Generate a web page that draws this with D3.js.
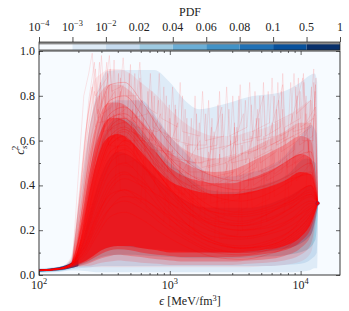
<!DOCTYPE html>
<html>
<head>
<meta charset="utf-8">
<script src="https://cdn.jsdelivr.net/npm/d3@7"></script>
<style>
  body { margin: 0; background: #fff; }
  text { font-family: "Liberation Serif", "DejaVu Serif", serif; fill: #222; }
</style>
</head>
<body>
<div id="chart"></div>
<script>
// colorbar
var pdfLabels = [["10", "−4"], ["10", "−3"], ["10", "−2"], ["0.02"], ["0.04"], ["0.06"], ["0.08"], ["0.1"], ["0.5"], ["1"]];
var pdfColors = ["#f7fbff", "#deebf7", "#c6dbef", "#9ecae1", "#6baed6", "#4292c6", "#2171b5", "#08519c", "#08306b"];

// axes
var xMajor = [100, 1000, 10000];
var xMajorLabels = [["10", "2"], ["10", "3"], ["10", "4"]];
var xMinor = [200, 300, 400, 500, 600, 700, 800, 900, 2000, 3000, 4000, 5000, 6000, 7000, 8000, 9000];
var yMajor = [0, 0.2, 0.4, 0.6, 0.8, 1.0];
var yMinor = [0.1, 0.3, 0.5, 0.7, 0.9];

// PDF regions (blue): e, lower, upper
var pdf2E  = [100, 150, 175, 200, 250, 300, 330, 440, 760, 1000, 1300, 1680, 2500, 4000, 7200, 10000, 11600, 12800, 13400, 13600];
var pdf2Hi = [0.03, 0.04, 0.07, 0.3, 0.7, 0.87, 0.91, 0.915, 0.915, 0.86, 0.78, 0.74, 0.76, 0.795, 0.817, 0.86, 0.89, 0.9, 0.86, 0.33];
var pdf2Lo = [0.01, 0.015, 0.02, 0.02, 0.015, 0.012, 0.012, 0.012, 0.012, 0.012, 0.012, 0.012, 0.012, 0.012, 0.012, 0.015, 0.02, 0.03, 0.03, 0.31];

var pdf3E  = [100, 150, 175, 200, 250, 300, 400, 600, 800, 1000, 1300, 1700, 2200, 3000, 4000, 5500, 7500, 10000, 12000, 13300, 13600];
var pdf3Hi = [0.028, 0.038, 0.06, 0.15, 0.5, 0.7, 0.78, 0.78, 0.7, 0.62, 0.55, 0.48, 0.44, 0.44, 0.455, 0.48, 0.53, 0.62, 0.67, 0.63, 0.33];
var pdf3Lo = [0.012, 0.018, 0.025, 0.03, 0.035, 0.04, 0.04, 0.04, 0.04, 0.04, 0.04, 0.04, 0.04, 0.04, 0.04, 0.04, 0.045, 0.05, 0.07, 0.1, 0.31];

var pdf4E  = [100, 150, 175, 200, 250, 300, 400, 500, 700, 1000, 1500, 2000, 3000, 5000, 8000, 11000, 13000, 13600];
var pdf4Hi = [0.026, 0.036, 0.055, 0.12, 0.4, 0.6, 0.7, 0.69, 0.6, 0.5, 0.42, 0.38, 0.37, 0.4, 0.45, 0.52, 0.5, 0.33];
var pdf4Lo = [0.014, 0.02, 0.03, 0.04, 0.06, 0.08, 0.09, 0.09, 0.085, 0.08, 0.075, 0.075, 0.075, 0.08, 0.09, 0.11, 0.16, 0.31];

var pdf5E  = [100, 150, 175, 200, 250, 300, 400, 600, 1000, 2000, 4000, 8000, 12000, 13600];
var pdf5Hi = [0.025, 0.034, 0.05, 0.09, 0.3, 0.45, 0.55, 0.5, 0.38, 0.3, 0.3, 0.35, 0.4, 0.33];
var pdf5Lo = [0.015, 0.022, 0.033, 0.045, 0.08, 0.11, 0.13, 0.12, 0.11, 0.1, 0.1, 0.12, 0.18, 0.31];

var tubeE  = [100, 130, 160, 180, 200];
var tubeHi = [0.025, 0.031, 0.043, 0.056, 0.07];
var tubeLo = [0.016, 0.02, 0.026, 0.032, 0.04];

// red ensemble envelopes, from sparse to dense
var redE = [100, 150, 175, 200, 230, 260, 300, 350, 400, 500, 600, 800, 1000, 1300, 1700, 2200, 3000, 4000, 5500, 7500, 10000, 12000, 13500];
var red1Hi = [0.025, 0.04, 0.08, 0.35, 0.68, 0.86, 0.9, 0.92, 0.92, 0.9, 0.86, 0.8, 0.74, 0.68, 0.64, 0.62, 0.62, 0.64, 0.66, 0.7, 0.75, 0.78, 0.33];
var red1Lo = [0.016, 0.022, 0.03, 0.035, 0.035, 0.035, 0.035, 0.035, 0.035, 0.035, 0.035, 0.035, 0.035, 0.035, 0.035, 0.035, 0.035, 0.035, 0.04, 0.045, 0.06, 0.1, 0.31];
var red2Hi = [0.025, 0.038, 0.065, 0.27, 0.56, 0.74, 0.82, 0.85, 0.85, 0.82, 0.77, 0.69, 0.62, 0.56, 0.53, 0.52, 0.53, 0.56, 0.6, 0.64, 0.68, 0.68, 0.33];
var red2Lo = [0.016, 0.023, 0.031, 0.037, 0.04, 0.045, 0.055, 0.06, 0.065, 0.06, 0.055, 0.05, 0.045, 0.045, 0.045, 0.045, 0.045, 0.05, 0.055, 0.065, 0.09, 0.14, 0.31];
var red3Hi = [0.025, 0.036, 0.055, 0.2, 0.45, 0.62, 0.73, 0.77, 0.77, 0.74, 0.69, 0.61, 0.55, 0.5, 0.47, 0.46, 0.47, 0.5, 0.54, 0.58, 0.62, 0.6, 0.33];
var red3Lo = [0.017, 0.024, 0.032, 0.04, 0.048, 0.06, 0.075, 0.085, 0.09, 0.085, 0.08, 0.07, 0.065, 0.06, 0.06, 0.06, 0.06, 0.065, 0.07, 0.085, 0.12, 0.18, 0.31];
var red4Hi = [0.024, 0.034, 0.05, 0.16, 0.38, 0.54, 0.65, 0.7, 0.7, 0.67, 0.62, 0.54, 0.48, 0.44, 0.42, 0.41, 0.41, 0.43, 0.46, 0.5, 0.54, 0.52, 0.33];
var red4Lo = [0.018, 0.025, 0.034, 0.045, 0.058, 0.075, 0.095, 0.11, 0.115, 0.11, 0.1, 0.09, 0.085, 0.08, 0.08, 0.08, 0.08, 0.085, 0.095, 0.11, 0.15, 0.21, 0.315];
var red5Hi = [0.024, 0.032, 0.045, 0.12, 0.3, 0.45, 0.57, 0.62, 0.63, 0.6, 0.55, 0.47, 0.42, 0.39, 0.37, 0.36, 0.36, 0.37, 0.39, 0.42, 0.46, 0.45, 0.325];
var red5Lo = [0.018, 0.026, 0.036, 0.05, 0.065, 0.085, 0.11, 0.125, 0.13, 0.13, 0.12, 0.11, 0.1, 0.1, 0.1, 0.1, 0.1, 0.105, 0.115, 0.13, 0.17, 0.23, 0.315];

// individual smooth curves
var curveE = [100, 150, 180, 220, 280, 350, 450, 600, 900, 1400, 2200, 3500, 5500, 8500, 12000, 13500];
var smoothCurves = [
  [0.02, 0.03, 0.05, 0.15, 0.35, 0.5, 0.6, 0.55, 0.42, 0.3, 0.22, 0.2, 0.22, 0.28, 0.33, 0.32],
  [0.02, 0.03, 0.05, 0.2, 0.45, 0.6, 0.65, 0.58, 0.45, 0.33, 0.25, 0.22, 0.24, 0.3, 0.36, 0.32],
  [0.02, 0.03, 0.05, 0.12, 0.28, 0.4, 0.45, 0.42, 0.32, 0.22, 0.15, 0.13, 0.15, 0.2, 0.28, 0.32],
  [0.02, 0.03, 0.06, 0.25, 0.55, 0.7, 0.72, 0.65, 0.5, 0.38, 0.3, 0.28, 0.3, 0.35, 0.4, 0.32],
  [0.02, 0.03, 0.05, 0.1, 0.22, 0.3, 0.33, 0.3, 0.22, 0.15, 0.1, 0.09, 0.11, 0.16, 0.25, 0.32],
  [0.02, 0.03, 0.05, 0.18, 0.42, 0.58, 0.62, 0.52, 0.35, 0.22, 0.15, 0.12, 0.14, 0.2, 0.3, 0.32],
  [0.02, 0.03, 0.055, 0.3, 0.62, 0.78, 0.8, 0.72, 0.55, 0.42, 0.35, 0.33, 0.36, 0.42, 0.46, 0.32],
  [0.02, 0.03, 0.05, 0.14, 0.33, 0.46, 0.5, 0.44, 0.3, 0.2, 0.14, 0.12, 0.13, 0.18, 0.27, 0.32],
  [0.02, 0.03, 0.05, 0.08, 0.18, 0.26, 0.28, 0.25, 0.18, 0.12, 0.08, 0.07, 0.09, 0.14, 0.24, 0.32],
  [0.02, 0.03, 0.05, 0.22, 0.5, 0.65, 0.68, 0.6, 0.48, 0.4, 0.36, 0.36, 0.39, 0.43, 0.45, 0.32],
  [0.02, 0.03, 0.05, 0.16, 0.38, 0.52, 0.56, 0.5, 0.38, 0.28, 0.23, 0.22, 0.25, 0.3, 0.35, 0.32],
  [0.02, 0.03, 0.05, 0.11, 0.26, 0.38, 0.43, 0.4, 0.34, 0.27, 0.22, 0.2, 0.21, 0.25, 0.3, 0.32],
  [0.02, 0.03, 0.06, 0.28, 0.58, 0.72, 0.75, 0.68, 0.55, 0.45, 0.4, 0.38, 0.4, 0.45, 0.5, 0.32],
  [0.02, 0.03, 0.05, 0.13, 0.3, 0.42, 0.46, 0.4, 0.28, 0.18, 0.12, 0.1, 0.11, 0.15, 0.24, 0.32],
  [0.02, 0.03, 0.05, 0.19, 0.44, 0.6, 0.64, 0.56, 0.42, 0.3, 0.24, 0.23, 0.27, 0.34, 0.4, 0.32],
  [0.02, 0.03, 0.05, 0.09, 0.2, 0.3, 0.35, 0.34, 0.28, 0.22, 0.17, 0.16, 0.18, 0.22, 0.29, 0.32],
  [0.02, 0.03, 0.05, 0.24, 0.52, 0.66, 0.7, 0.63, 0.5, 0.36, 0.27, 0.24, 0.27, 0.33, 0.38, 0.32],
  [0.02, 0.03, 0.05, 0.17, 0.4, 0.55, 0.58, 0.5, 0.36, 0.25, 0.19, 0.17, 0.19, 0.25, 0.32, 0.32],
  [0.02, 0.03, 0.05, 0.12, 0.27, 0.36, 0.38, 0.33, 0.24, 0.16, 0.11, 0.1, 0.12, 0.17, 0.26, 0.32],
  [0.02, 0.03, 0.06, 0.33, 0.68, 0.85, 0.86, 0.78, 0.62, 0.5, 0.44, 0.42, 0.45, 0.52, 0.55, 0.32],
  [0.02, 0.03, 0.05, 0.15, 0.36, 0.5, 0.54, 0.49, 0.4, 0.32, 0.28, 0.27, 0.29, 0.33, 0.37, 0.32],
  [0.02, 0.03, 0.05, 0.2, 0.47, 0.62, 0.66, 0.6, 0.46, 0.34, 0.28, 0.26, 0.28, 0.32, 0.36, 0.32],
  [0.02, 0.03, 0.05, 0.1, 0.24, 0.34, 0.38, 0.35, 0.27, 0.19, 0.14, 0.12, 0.13, 0.18, 0.27, 0.32],
  [0.02, 0.03, 0.05, 0.26, 0.56, 0.7, 0.7, 0.6, 0.42, 0.28, 0.2, 0.17, 0.19, 0.24, 0.31, 0.32]
];

// faint spiky curves, [e, cs2] pairs
var spikyCurves = [
  [[100,.02],[150,.03],[180,.05],[215,.3],[250,.62],[290,.8],[305,.58],[335,.9],[350,.64],[440,.85],[455,.6],[615,.78],[640,.55],[850,.72],[870,.48],[1150,.68],[1190,.44],[1700,.6],[1760,.4],[2500,.75],[2600,.44],[3650,.72],[3800,.5],[5200,.8],[5400,.56],[7300,.85],[7600,.58],[10400,.88],[10800,.62],[12800,.72],[13500,.32]],
  [[100,.02],[150,.03],[180,.05],[205,.35],[235,.7],[270,.92],[285,.7],[300,.98],[320,.75],[380,.82],[400,.6],[420,.88],[450,.66],[520,.7],[540,.9],[560,.62],[700,.6],[730,.82],[760,.55],[950,.5],[990,.76],[1030,.48],[1400,.45],[1460,.7],[1520,.44],[2000,.42],[2080,.66],[2160,.4],[3000,.45],[3120,.68],[3240,.44],[4500,.5],[4700,.74],[4900,.5],[6500,.55],[6800,.78],[7100,.55],[9500,.6],[9900,.82],[10300,.6],[12500,.6],[13000,.85],[13500,.32]],
  [[100,.02],[150,.03],[180,.05],[220,.25],[260,.5],[300,.62],[320,.8],[340,.58],[420,.62],[440,.76],[460,.5],[600,.52],[630,.7],[660,.45],[900,.42],[940,.62],[980,.38],[1300,.36],[1360,.58],[1420,.34],[1900,.34],[1980,.55],[2060,.32],[2800,.34],[2920,.6],[3050,.35],[4000,.4],[4180,.62],[4360,.4],[5800,.45],[6050,.68],[6300,.45],[8200,.5],[8550,.72],[8900,.5],[11500,.55],[12000,.78],[12500,.55],[13500,.32]],
  [[100,.02],[150,.03],[180,.05],[210,.4],[240,.78],[265,.95],[280,.72],[330,.85],[350,.92],[370,.7],[480,.75],[500,.94],[520,.7],[680,.72],[710,.9],[740,.66],[1000,.62],[1050,.84],[1100,.6],[1500,.58],[1560,.8],[1620,.56],[2300,.58],[2400,.82],[2500,.56],[3300,.6],[3450,.85],[3600,.6],[5000,.62],[5200,.86],[5400,.62],[7000,.66],[7300,.9],[7600,.66],[10000,.7],[10500,.9],[11000,.68],[13000,.75],[13500,.32]],
  [[100,.02],[150,.03],[180,.05],[230,.2],[290,.42],[350,.55],[370,.72],[390,.5],[520,.48],[545,.66],[570,.42],[760,.38],[800,.58],[840,.35],[1150,.3],[1200,.5],[1250,.28],[1700,.26],[1780,.46],[1860,.25],[2600,.26],[2720,.5],[2840,.27],[3900,.3],[4080,.52],[4260,.3],[5800,.34],[6050,.56],[6300,.35],[8500,.4],[8900,.62],[9300,.42],[12000,.5],[12600,.7],[13500,.32]],
  [[100,.02],[150,.03],[180,.05],[200,.3],[225,.62],[255,.84],[270,.66],[310,.8],[330,.95],[345,.7],[400,.72],[560,.68],[590,.88],[620,.6],[780,.58],[820,.78],[860,.55],[1250,.52],[1310,.74],[1370,.5],[1800,.5],[1880,.72],[1960,.48],[2700,.5],[2830,.74],[2960,.5],[4000,.52],[4200,.76],[4400,.52],[6000,.56],[6280,.8],[6560,.58],[8800,.62],[9200,.84],[9600,.62],[12000,.66],[12600,.86],[13500,.32]],
  [[100,.02],[150,.03],[180,.05],[215,.35],[245,.66],[275,.78],[290,.95],[305,.72],[360,.75],[375,.96],[390,.7],[470,.68],[490,.9],[510,.64],[580,.62],[600,.86],[620,.6],[900,.55],[940,.8],[980,.52],[1300,.5],[1350,.7],[1400,.46],[2000,.46],[2100,.7],[2200,.44],[3100,.46],[3250,.66],[3400,.44],[4600,.48],[4800,.7],[5000,.46],[7000,.5],[7300,.74],[7600,.5],[10500,.56],[11000,.8],[11500,.56],[13500,.32]],
  [[100,.02],[150,.03],[180,.05],[240,.15],[300,.3],[380,.4],[400,.58],[420,.38],[600,.32],[630,.52],[660,.3],[900,.24],[950,.44],[1000,.22],[1400,.18],[1470,.4],[1540,.18],[2200,.16],[2300,.38],[2400,.16],[3300,.18],[3450,.42],[3600,.2],[5000,.22],[5250,.46],[5500,.24],[7500,.28],[7850,.52],[8200,.3],[11000,.38],[11500,.6],[12000,.4],[13500,.32]],
  [[100,.02],[150,.03],[180,.05],[210,.28],[250,.58],[280,.7],[295,.86],[310,.64],[400,.66],[420,.82],[440,.6],[650,.6],[680,.82],[710,.56],[1050,.55],[1100,.76],[1150,.52],[1600,.5],[1680,.68],[1760,.48],[2400,.5],[2520,.72],[2640,.5],[3600,.54],[3780,.78],[3960,.54],[5400,.58],[5650,.82],[5900,.58],[8000,.62],[8400,.86],[8800,.64],[11500,.66],[12100,.84],[13500,.32]],
  [[100,.02],[150,.03],[180,.05],[200,.45],[220,.8],[240,.9],[255,.99],[270,.8],[330,.88],[345,.98],[360,.82],[420,.84],[440,.97],[460,.8],[560,.8],[590,.95],[620,.76],[800,.72],[830,.9],[860,.7],[1150,.66],[1200,.86],[1250,.64],[1700,.62],[1780,.82],[1860,.6],[2600,.62],[2720,.84],[2840,.62],[3900,.66],[4080,.86],[4260,.64],[5800,.68],[6050,.88],[6300,.68],[8500,.72],[8900,.9],[9300,.72],[12000,.78],[12600,.92],[13500,.32]],
  [[100,.02],[150,.03],[180,.05],[225,.3],[280,.55],[320,.68],[345,.85],[360,.62],[500,.58],[520,.74],[540,.52],[700,.45],[730,.64],[760,.42],[1000,.36],[1050,.56],[1100,.34],[1500,.3],[1570,.52],[1640,.3],[2300,.3],[2400,.54],[2500,.32],[3400,.34],[3560,.58],[3720,.36],[5000,.4],[5240,.62],[5480,.42],[7200,.46],[7550,.66],[7900,.48],[10500,.52],[11000,.72],[11500,.54],[13500,.32]],
  [[100,.02],[150,.03],[180,.05],[205,.32],[235,.64],[265,.82],[285,.68],[400,.7],[560,.66],[800,.64],[870,.66],[900,.84],[930,.62],[1200,.6],[1250,.8],[1300,.58],[1900,.58],[1980,.78],[2060,.56],[2900,.58],[3030,.8],[3160,.58],[4300,.6],[4480,.82],[4660,.6],[6400,.62],[6700,.86],[7000,.62],[9200,.66],[9600,.88],[10000,.66],[12600,.7],[13100,.88],[13500,.32]],
  [[100,.02],[150,.03],[180,.05],[212,.33],[248,.6],[282,.74],[318,.66],[395,.72],[405,.9],[415,.66],[740,.6],[760,.8],[780,.58],[1080,.54],[1110,.74],[1140,.52],[1550,.5],[1600,.72],[1650,.5],[2250,.52],[2330,.76],[2410,.52],[3250,.54],[3370,.8],[3490,.54],[4700,.56],[4880,.8],[5060,.56],[6900,.6],[7150,.82],[7400,.6],[10200,.64],[10600,.86],[11000,.64],[13500,.32]],
  [[100,.02],[150,.03],[180,.05],[228,.28],[272,.52],[312,.6],[326,.82],[340,.58],[530,.56],[550,.78],[570,.54],[960,.46],[1000,.7],[1040,.44],[1350,.4],[1400,.62],[1450,.4],[2100,.4],[2180,.64],[2260,.4],[3000,.42],[3120,.66],[3240,.42],[4400,.46],[4580,.7],[4760,.46],[6300,.5],[6560,.74],[6820,.5],[9000,.56],[9400,.8],[9800,.58],[12400,.62],[12900,.82],[13500,.32]]
];

var endPoint = [13500, 0.32];

(function() {
var W = 349, H = 311;
var margin = { top: 51, right: 9, bottom: 36, left: 39 };
var fs = 12;
var x = d3.scaleLog().domain([100, 20000]).range([margin.left, W - margin.right]);
var y = d3.scaleLinear().domain([0, 1]).range([H - margin.bottom, margin.top]);

var svg = d3.select("#chart").append("svg").attr("width", W).attr("height", H);

svg.append("defs").append("clipPath").attr("id", "clip")
  .append("rect").attr("x", margin.left).attr("y", margin.top)
  .attr("width", W - margin.left - margin.right).attr("height", H - margin.top - margin.bottom);

var plot = svg.append("g").attr("clip-path", "url(#clip)");
plot.append("rect").attr("x", margin.left).attr("y", margin.top)
  .attr("width", W - margin.left - margin.right).attr("height", H - margin.top - margin.bottom)
  .attr("fill", pdfColors[0]);

function band(es, lo, hi) {
  var rows = es.map(function(e, i) { return { e: e, lo: lo[i], hi: hi[i] }; });
  return d3.area().curve(d3.curveMonotoneX)
    .x(function(d) { return x(d.e); })
    .y0(function(d) { return y(d.lo); })
    .y1(function(d) { return y(d.hi); })(rows);
}

plot.append("path").attr("d", band(pdf2E, pdf2Lo, pdf2Hi)).attr("fill", pdfColors[1]);
plot.append("path").attr("d", band(pdf3E, pdf3Lo, pdf3Hi)).attr("fill", pdfColors[2]);
plot.append("path").attr("d", band(pdf4E, pdf4Lo, pdf4Hi)).attr("fill", pdfColors[3]);
plot.append("path").attr("d", band(pdf5E, pdf5Lo, pdf5Hi)).attr("fill", pdfColors[4]);
plot.append("path").attr("d", band(tubeE, tubeLo, tubeHi)).attr("fill", pdfColors[7]);

var redBands = [[red1Lo, red1Hi, 0.07], [red2Lo, red2Hi, 0.14], [red3Lo, red3Hi, 0.25],
                [red4Lo, red4Hi, 0.38], [red5Lo, red5Hi, 0.6]];
redBands.forEach(function(b) {
  plot.append("path").attr("d", band(redE, b[0], b[1])).attr("fill", "red").attr("opacity", b[2]);
});

var smoothLine = d3.line().curve(d3.curveMonotoneX)
  .x(function(d) { return x(d[0]); }).y(function(d) { return y(d[1]); });
var spikyLine = d3.line().curve(d3.curveLinear)
  .x(function(d) { return x(d[0]); }).y(function(d) { return y(d[1]); });

smoothCurves.forEach(function(c) {
  plot.append("path").attr("d", smoothLine(c.map(function(v, i) { return [curveE[i], v]; })))
    .attr("fill", "none").attr("stroke", "red").attr("stroke-width", 0.7).attr("opacity", 0.3);
});
spikyCurves.forEach(function(c) {
  plot.append("path").attr("d", spikyLine(c))
    .attr("fill", "none").attr("stroke", "red").attr("stroke-width", 0.6).attr("opacity", 0.17);
});

plot.append("circle").attr("cx", x(endPoint[0])).attr("cy", y(endPoint[1])).attr("r", 1.8)
  .attr("fill", "red").attr("stroke", "#5a2a6a").attr("stroke-width", 0.5);

// ticks, inward on all four sides
function tickAxis(axis, transform) {
  var g = svg.append("g").attr("transform", transform).call(axis);
  g.select(".domain").remove();
  g.selectAll("line").attr("stroke", "#222").attr("stroke-width", 0.7);
  g.selectAll("text").remove();
}
var bottom = "translate(0," + (H - margin.bottom) + ")";
var top = "translate(0," + margin.top + ")";
var left = "translate(" + margin.left + ",0)";
var right = "translate(" + (W - margin.right) + ",0)";
tickAxis(d3.axisBottom(x).tickValues(xMajor).tickSize(-4), bottom);
tickAxis(d3.axisBottom(x).tickValues(xMinor).tickSize(-2), bottom);
tickAxis(d3.axisTop(x).tickValues(xMajor).tickSize(-4), top);
tickAxis(d3.axisTop(x).tickValues(xMinor).tickSize(-2), top);
tickAxis(d3.axisLeft(y).tickValues(yMajor).tickSize(-4), left);
tickAxis(d3.axisLeft(y).tickValues(yMinor).tickSize(-2), left);
tickAxis(d3.axisRight(y).tickValues(yMajor).tickSize(-4), right);
tickAxis(d3.axisRight(y).tickValues(yMinor).tickSize(-2), right);

svg.append("rect").attr("x", margin.left).attr("y", margin.top)
  .attr("width", W - margin.left - margin.right).attr("height", H - margin.top - margin.bottom)
  .attr("fill", "none").attr("stroke", "#222").attr("stroke-width", 0.9);

function powLabel(sel, parts, size) {
  sel.append("tspan").text(parts[0]);
  if (parts.length > 1) {
    sel.append("tspan").attr("font-size", size * 0.7).attr("dy", -size * 0.38).text(parts[1]);
  }
}

xMajor.forEach(function(v, i) {
  var t = svg.append("text").attr("x", x(v)).attr("y", 289).attr("text-anchor", "middle")
    .attr("font-size", fs);
  powLabel(t, xMajorLabels[i], fs);
});
yMajor.forEach(function(v) {
  svg.append("text").attr("x", 35).attr("y", y(v) + 4).attr("text-anchor", "end")
    .attr("font-size", fs).text(v.toFixed(1));
});

var xl = svg.append("text").attr("x", 190).attr("y", 305).attr("text-anchor", "middle").attr("font-size", fs);
xl.append("tspan").attr("font-style", "italic").text("ϵ");
xl.append("tspan").text(" [MeV/fm");
xl.append("tspan").attr("font-size", fs * 0.7).attr("dy", -4).text("3");
xl.append("tspan").attr("dy", 4).text("]");

var yl = svg.append("text").attr("transform", "translate(24,150) rotate(-90)")
  .attr("text-anchor", "middle").attr("font-size", 13);
yl.append("tspan").attr("font-style", "italic").text("c");
yl.append("tspan").attr("font-style", "italic").attr("font-size", 9).attr("dy", 3).text("s");
yl.append("tspan").attr("font-size", 9).attr("dx", -4.8).attr("dy", -9).text("2");

// colorbar
var cb = d3.scalePoint().domain(d3.range(pdfLabels.length)).range([margin.left, W - margin.right]);
var cbTop = 42, cbBot = 50;
pdfColors.forEach(function(c, i) {
  svg.append("rect").attr("x", cb(i)).attr("y", cbTop).attr("width", cb(i + 1) - cb(i))
    .attr("height", cbBot - cbTop).attr("fill", c);
});
svg.append("rect").attr("x", margin.left).attr("y", cbTop).attr("width", W - margin.left - margin.right)
  .attr("height", 2.4).attr("fill", "#8a8a8a");
svg.append("rect").attr("x", margin.left).attr("y", cbTop).attr("width", W - margin.left - margin.right)
  .attr("height", cbBot - cbTop).attr("fill", "none").attr("stroke", "#222").attr("stroke-width", 0.7);
var cbAxis = svg.append("g").attr("transform", "translate(0," + cbTop + ")")
  .call(d3.axisTop(cb).tickSize(5).tickFormat(""));
cbAxis.select(".domain").remove();
cbAxis.selectAll("line").attr("stroke", "#222").attr("stroke-width", 0.8);
pdfLabels.forEach(function(p, i) {
  var t = svg.append("text").attr("x", cb(i)).attr("y", 31).attr("text-anchor", "middle").attr("font-size", fs);
  powLabel(t, p, fs);
});
svg.append("text").attr("x", 190).attr("y", 16).attr("text-anchor", "middle").attr("font-size", fs).text("PDF");
})();
</script>
</body>
</html>
